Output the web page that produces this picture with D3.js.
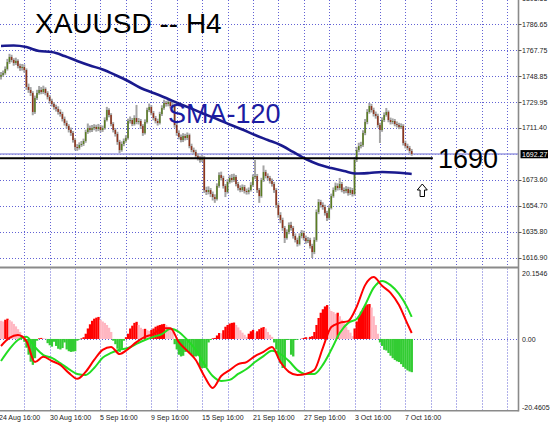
<!DOCTYPE html>
<html><head><meta charset="utf-8">
<script src="https://cdn.jsdelivr.net/npm/d3@7"></script>
<style>html,body{margin:0;padding:0;background:#fff;overflow:hidden}</style>
</head><body><svg id="c" width="554" height="422"></svg>
<script>
// ---------- DATA ----------
const firstOpen = 1748.5;
const closes = [1749.8,1751.2,1754.1,1759.2,1762.9,1760.7,1758.5,1760.0,1756.3,1754.9,1755.6,1753.4,1741.1,1738.9,1736.7,1722.9,1733.0,1736.7,1738.9,1737.4,1739.6,1736.7,1733.8,1730.9,1728.7,1726.5,1725.1,1722.9,1721.4,1717.8,1714.9,1712.7,1709.8,1707.6,1702.5,1697.4,1696.7,1698.9,1699.6,1701.8,1708.3,1711.2,1709.8,1711.2,1712.0,1710.5,1712.0,1709.8,1711.2,1717.0,1724.3,1720.7,1714.1,1709.8,1706.9,1701.1,1695.2,1699.6,1701.8,1704.0,1716.3,1717.0,1714.1,1718.5,1715.6,1716.3,1712.7,1707.6,1715.6,1724.3,1726.5,1722.1,1718.5,1716.3,1714.9,1721.4,1725.8,1729.4,1728.7,1730.1,1727.2,1727.9,1713.4,1707.6,1704.7,1702.5,1705.4,1704.0,1706.1,1698.1,1695.2,1693.8,1690.9,1689.4,1688.0,1689.4,1666.1,1664.7,1666.1,1663.2,1661.0,1659.6,1669.1,1677.0,1674.9,1669.1,1664.7,1672.0,1674.9,1673.4,1675.6,1670.5,1667.6,1666.1,1668.3,1665.4,1664.7,1666.1,1669.8,1675.6,1676.3,1666.1,1661.7,1673.4,1679.2,1676.3,1674.9,1672.7,1670.5,1666.1,1655.2,1648.0,1644.3,1638.5,1631.2,1635.6,1640.7,1638.5,1632.7,1629.8,1626.9,1632.7,1634.9,1631.2,1629.0,1629.8,1625.4,1621.0,1629.8,1650.1,1657.4,1655.2,1653.8,1649.4,1645.8,1653.0,1661.7,1666.1,1669.1,1667.6,1670.5,1666.1,1665.4,1666.9,1663.9,1666.1,1663.2,1688.0,1695.2,1698.1,1698.9,1707.6,1715.6,1722.9,1727.2,1724.3,1721.4,1720.0,1713.4,1709.8,1717.0,1720.7,1722.9,1717.0,1715.6,1716.3,1714.1,1713.4,1712.0,1712.7,1700.3,1698.1,1696.7,1694.5,1692.27];
const highs = [1752.0,1753.0,1756.0,1761.5,1765.2,1764.5,1762.0,1762.4,1761.2,1758.0,1757.8,1757.5,1754.6,1743.5,1741.0,1738.0,1734.8,1739.0,1741.8,1741.0,1742.0,1740.8,1738.0,1735.2,1732.5,1730.0,1728.2,1727.0,1724.8,1723.0,1719.5,1716.6,1714.0,1711.5,1709.0,1704.0,1699.5,1700.8,1701.8,1703.5,1710.0,1714.5,1713.0,1713.4,1714.0,1713.6,1714.2,1713.5,1713.0,1719.0,1726.6,1725.6,1722.0,1715.5,1711.2,1708.5,1702.6,1701.5,1703.6,1706.0,1718.0,1719.6,1718.5,1720.5,1728.0,1718.5,1717.8,1714.0,1717.5,1726.0,1729.0,1727.8,1723.6,1720.0,1718.0,1723.0,1727.8,1731.8,1731.0,1732.2,1731.6,1730.0,1729.0,1715.0,1709.5,1706.5,1707.5,1707.0,1708.0,1707.2,1699.8,1697.0,1695.4,1692.6,1691.0,1691.5,1690.8,1668.5,1668.8,1667.6,1665.0,1663.0,1671.0,1679.0,1679.5,1676.5,1670.5,1674.0,1677.0,1677.8,1678.0,1677.0,1672.0,1669.5,1670.2,1669.8,1667.2,1668.0,1671.8,1677.5,1688.0,1677.8,1667.6,1675.0,1684.0,1680.8,1678.2,1676.4,1674.5,1672.0,1667.5,1657.0,1650.0,1646.0,1640.0,1637.5,1642.6,1643.0,1640.0,1634.5,1631.5,1634.6,1637.0,1636.5,1633.0,1632.0,1631.4,1627.0,1631.8,1652.0,1659.5,1659.0,1657.2,1655.4,1651.0,1655.0,1663.5,1668.0,1671.5,1671.0,1674.9,1672.0,1668.0,1669.0,1668.5,1668.2,1667.6,1690.0,1697.5,1700.5,1701.2,1709.6,1717.8,1725.0,1729.4,1728.8,1726.0,1723.2,1721.6,1715.0,1719.0,1722.6,1725.8,1724.0,1718.8,1718.2,1717.8,1716.0,1715.0,1714.6,1714.0,1702.0,1699.8,1698.2,1696.0];
const lows = [1746.5,1748.6,1750.0,1753.0,1757.8,1759.0,1756.5,1757.0,1754.6,1752.8,1753.0,1751.5,1739.0,1736.8,1734.5,1720.5,1721.5,1731.6,1735.5,1735.8,1736.0,1735.0,1732.0,1729.0,1726.8,1724.6,1723.2,1721.0,1719.5,1716.0,1713.0,1710.8,1708.0,1705.5,1700.6,1695.0,1694.6,1695.5,1697.5,1698.2,1700.5,1707.0,1708.0,1708.3,1709.6,1708.6,1709.0,1708.0,1708.4,1710.0,1716.0,1719.0,1712.5,1708.0,1705.0,1699.0,1693.0,1694.0,1698.0,1700.5,1702.8,1714.5,1712.6,1713.0,1714.0,1713.8,1710.5,1705.5,1706.5,1714.5,1722.8,1720.5,1716.8,1714.6,1713.0,1713.8,1720.0,1724.5,1726.8,1727.0,1725.5,1725.8,1711.5,1705.6,1703.0,1700.8,1701.0,1702.2,1702.5,1696.5,1693.5,1692.0,1689.0,1687.6,1686.0,1686.5,1664.0,1662.5,1663.0,1661.0,1658.5,1656.8,1658.5,1667.8,1673.0,1667.2,1661.0,1663.5,1670.8,1671.6,1672.0,1668.8,1665.8,1664.5,1664.8,1663.6,1662.8,1663.0,1665.0,1668.5,1674.0,1664.0,1656.8,1660.5,1672.0,1674.6,1673.0,1670.8,1668.6,1664.0,1653.0,1646.0,1642.0,1636.5,1627.6,1630.0,1634.0,1636.6,1630.8,1628.0,1625.0,1625.8,1631.0,1629.5,1627.0,1627.5,1623.6,1616.7,1619.5,1628.5,1648.6,1653.4,1651.8,1647.5,1643.6,1644.5,1652.0,1660.5,1664.8,1665.8,1666.0,1664.5,1663.5,1663.8,1662.0,1662.5,1661.4,1662.0,1686.5,1693.6,1696.4,1697.5,1706.0,1714.0,1721.6,1722.5,1719.6,1718.0,1711.5,1700.3,1708.5,1715.6,1719.5,1715.4,1713.8,1714.0,1712.5,1711.6,1710.4,1710.5,1698.5,1696.4,1695.0,1692.8,1691.0];

const smaIdx  = [0,6,12,18,24,30,36,42,48,54,60,66,72,78,84,90,96,102,108,114,120,126,132,138,144,150,156,162,168,174,180,186,192,194];
const smaVals = [1770.9,1771.2,1770.1,1767.2,1766.5,1763.6,1760.0,1756.7,1753.8,1749.8,1745.4,1740.3,1736.7,1733.0,1729.0,1725.3,1721.4,1717.8,1713.8,1710.1,1706.1,1702.5,1698.9,1693.8,1688.7,1684.7,1682.1,1679.9,1678.1,1678.5,1679.2,1678.9,1678.1,1677.8];

const oscIdx = [0,4,8,12,16,20,24,28,32,36,40,44,48,52,56,60,64,68,72,76,80,84,88,92,96,100,104,108,112,116,120,124,128,132,136,140,144,148,152,156,160,164,168,172,176,180,184,188,192,194];
const macdVals = [-2.0,0.3,1.1,-0.6,-6.6,-5.1,-6.3,-7.4,-9.7,-11.4,-9.4,-6.0,-3.1,-2.3,-4.3,-2.9,-0.9,0.6,1.4,3.1,3.1,-0.9,-3.4,-6.0,-10.6,-14.0,-10.6,-8.9,-7.2,-6.6,-4.9,-3.7,-2.3,-6.6,-9.4,-10.3,-10.0,-8.9,-2.6,3.4,4.6,5.1,9.2,15.4,17.7,15.2,13.2,9.7,4.3,1.7];
const signalVals = [-6.3,-2.9,-0.3,0.6,-2.3,-4.6,-5.4,-6.9,-8.6,-10.0,-10.3,-8.3,-5.4,-4.0,-3.1,-2.6,-1.4,-0.3,0.6,1.4,2.9,2.0,-0.3,-3.1,-7.2,-10.6,-12.0,-11.7,-10.0,-8.6,-6.6,-4.9,-3.4,-4.3,-6.3,-8.9,-10.0,-10.0,-7.4,-3.1,1.7,4.6,5.7,9.7,14.6,16.6,15.4,12.9,8.9,6.3];
const histVals = [5.2,5.0,5.5,5.8,5.4,5.0,4.3,3.6,2.8,2.0,1.0,-0.8,-2.5,-4.5,-6.5,-7.4,-5.5,-0.5,0.2,0.3,0.2,0.1,-1.2,-1.8,-2.2,-0.8,-2.0,-2.8,-3.0,-2.6,-1.0,-3.0,-3.5,-3.7,-3.6,-3.5,-0.5,-0.2,0.2,0.5,1.5,3.0,4.2,5.2,5.8,6.1,6.3,5.5,5.0,4.6,4.0,3.2,2.0,-0.5,-1.5,-2.8,-3.7,-3.0,-0.5,0.5,1.5,3.0,3.8,4.6,4.9,4.0,3.2,2.8,2.9,2.5,2.3,2.6,3.0,3.5,3.8,4.0,4.2,4.3,4.0,3.5,3.0,2.0,-1.5,-3.0,-4.5,-5.0,-4.8,-3.7,-3.7,-4.0,-4.5,-5.0,-5.0,-4.8,-8.0,-8.3,-8.3,-8.0,-1.0,-0.3,0.2,0.3,1.0,1.7,1.6,2.5,3.5,4.0,4.4,4.6,4.7,4.0,3.3,2.5,1.8,1.2,0.6,1.5,2.2,2.6,1.8,2.2,2.8,3.2,3.4,3.0,2.0,1.2,0.6,-1.0,-3.0,-5.5,-7.0,-8.3,-8.0,-0.3,-0.2,-4.5,-5.0,-0.3,-0.2,0.0,0.1,0.3,0.5,0.4,0.6,0.8,2.0,4.0,6.0,7.5,8.5,9.3,9.7,8.5,8.0,7.7,7.2,7.5,6.5,5.5,4.5,3.5,2.6,1.8,0.8,3.0,5.0,6.5,7.8,8.8,9.5,9.9,10.0,9.0,6.5,4.0,1.5,-1.0,-2.0,-3.1,-3.3,-4.0,-4.8,-5.5,-6.0,-6.4,-6.6,-7.2,-8.0,-8.5,-9.0,-9.3,-9.5];

const priceTicks = [1805.55,1786.65,1767.75,1748.85,1729.95,1711.40,1692.50,1673.60,1654.70,1635.80,1616.90];
const oscTicks = [20.1546, 0, -20.4605];
const oscTickText = ["20.1546","0.00","-20.4605"];
const timeLabels = ["24 Aug 16:00","30 Aug 16:00","5 Sep 16:00","9 Sep 16:00","15 Sep 16:00","21 Sep 16:00","27 Sep 16:00","3 Oct 16:00","7 Oct 16:00"];
const timeLabelIdx = [-1,23,47,71,95,119,143,167,191];
const gridIdx = d3.range(-1, 240, 12);
const lastPrice = 1692.27;
const levelPrice = 1689.2, levelText = "1690", levelEndIdx = 204;
const arrowAt = {idx: 199, price: 1670.5};
const titleText = "XAUUSD -- H4", smaText = "SMA-120";

// ---------- SCALES ----------
const svg = d3.select("#c");
const plotR = 518.5;
const x = d3.scaleLinear().domain([0, 194]).range([1, 411.7]);
const yP = d3.scaleLinear().domain([1616.90, 1786.65]).range([257.7, 24.3]);
const yO = d3.scaleLinear().domain([-20.4605, 20.1546]).range([410.5, 268.5]);

const defs = svg.append("defs");
defs.append("clipPath").attr("id","cm").append("rect").attr("x",0).attr("y",0).attr("width",plotR).attr("height",266.5);
defs.append("clipPath").attr("id","co").append("rect").attr("x",0).attr("y",268.5).attr("width",plotR).attr("height",142);

const gridColor = "#6262d4";
const main = svg.append("g").attr("clip-path","url(#cm)");
const osc = svg.append("g").attr("clip-path","url(#co)");

// grids
main.selectAll("line.vg").data(gridIdx).join("line").attr("class","vg")
  .attr("x1", d=>Math.round(x(d))+0.5).attr("x2", d=>Math.round(x(d))+0.5).attr("y1",0).attr("y2",266.5)
  .attr("stroke",gridColor).attr("stroke-dasharray","1,2");
main.selectAll("line.hg").data(priceTicks).join("line").attr("class","hg")
  .attr("x1",0).attr("x2",plotR).attr("y1",d=>Math.round(yP(d))+0.5).attr("y2",d=>Math.round(yP(d))+0.5)
  .attr("stroke",gridColor).attr("stroke-dasharray","1,2");
osc.selectAll("line.vg").data(gridIdx).join("line").attr("class","vg")
  .attr("x1", d=>Math.round(x(d))+0.5).attr("x2", d=>Math.round(x(d))+0.5).attr("y1",268.5).attr("y2",410.5)
  .attr("stroke",gridColor).attr("stroke-dasharray","1,2");
osc.append("line").attr("x1",0).attr("x2",plotR).attr("y1",Math.round(yO(0))+0.5).attr("y2",Math.round(yO(0))+0.5)
  .attr("stroke",gridColor).attr("stroke-dasharray","1,2");

// bid line
main.append("line").attr("x1",0).attr("x2",plotR).attr("y1",yP(lastPrice)).attr("y2",yP(lastPrice))
  .attr("stroke","#9a9ae2").attr("stroke-width",1.6);

// candles
const candles = closes.map((c,i)=>({i, o: i===0?firstOpen:closes[i-1], c, h: highs[i], l: lows[i]}));
main.selectAll("line.wick").data(candles).join("line").attr("class","wick")
  .attr("x1",d=>x(d.i)).attr("x2",d=>x(d.i)).attr("y1",d=>yP(d.h)).attr("y2",d=>yP(d.l))
  .attr("stroke","#a4a4a4").attr("stroke-width",2);
main.selectAll("rect.body").data(candles).join("rect").attr("class","body")
  .attr("x",d=>x(d.i)-0.75).attr("width",1.5)
  .attr("y",d=>yP(Math.max(d.o,d.c)))
  .attr("height",d=>Math.max(1, Math.abs(yP(d.o)-yP(d.c))))
  .attr("fill",d=>d.c>=d.o?"#5a7d22":"#8e341c");

// SMA
const smaLine = d3.line().x(d=>x(d[0])).y(d=>yP(d[1])).curve(d3.curveMonotoneX);
main.append("path").attr("d", smaLine(smaIdx.map((k,j)=>[k, smaVals[j]])))
  .attr("fill","none").attr("stroke","#1a1a8e").attr("stroke-width",2.6);

// level line
main.append("line").attr("x1",0).attr("x2",x(levelEndIdx)).attr("y1",yP(levelPrice)).attr("y2",yP(levelPrice))
  .attr("stroke","#000").attr("stroke-width",2);

// arrow
const ax = x(arrowAt.idx), ay = yP(arrowAt.price);
main.append("path")
  .attr("d", `M${ax},${ay} L${ax+5},${ay+6} L${ax+2.2},${ay+6} L${ax+2.2},${ay+12.5} L${ax-2.2},${ay+12.5} L${ax-2.2},${ay+6} L${ax-5},${ay+6} Z`)
  .attr("fill","#fff").attr("stroke","#000").attr("stroke-width",1);

// texts
svg.append("text").attr("x",35).attr("y",33).text(titleText)
  .attr("font-family","Liberation Sans, Arial, sans-serif").attr("font-size",28).attr("fill","#000");
svg.append("text").attr("x",168).attr("y",123).text(smaText)
  .attr("font-family","Liberation Sans, Arial, sans-serif").attr("font-size",27).attr("fill","#1c1ca2");
svg.append("text").attr("x",438).attr("y",168).text(levelText)
  .attr("font-family","Liberation Sans, Arial, sans-serif").attr("font-size",27).attr("fill","#000");

// oscillator histogram
const hw = x(1)-x(0);
const hist = histVals.map((v,i)=>({i,v,prev: i===0? v+0.2 : histVals[i-1]}));
osc.selectAll("rect.h").data(hist).join("rect").attr("class","h")
  .attr("x",d=>x(d.i)-hw/2).attr("width",hw+0.2)
  .attr("y",d=>Math.min(yO(0),yO(d.v))).attr("height",d=>Math.abs(yO(d.v)-yO(0)))
  .attr("fill",d=> d.v<0 ? "#33cc33" : (d.v>=d.prev ? "#ff0000" : "#ffb6c1"));

const oLine = d3.line().x(d=>x(d[0])).y(d=>yO(d[1])).curve(d3.curveMonotoneX);
osc.append("path").attr("d", oLine(oscIdx.map((k,j)=>[k, signalVals[j]])))
  .attr("fill","none").attr("stroke","#22dd22").attr("stroke-width",2);
osc.append("path").attr("d", oLine(oscIdx.map((k,j)=>[k, macdVals[j]])))
  .attr("fill","none").attr("stroke","#ff0000").attr("stroke-width",2);

// frame
svg.append("rect").attr("x",0).attr("y",266.5).attr("width",plotR).attr("height",2).attr("fill","#8a8a8a");
svg.append("line").attr("x1",0).attr("x2",plotR).attr("y1",410.8).attr("y2",410.8).attr("stroke","#8a8a8a").attr("stroke-width",1.4);
svg.append("line").attr("x1",plotR).attr("x2",plotR).attr("y1",0).attr("y2",411.5).attr("stroke","#8a8a8a").attr("stroke-width",1.6);

// right axis labels
const small = "Liberation Sans, Arial, sans-serif";
const pt = priceTicks.filter(d=>d!==1692.50);
svg.selectAll("line.pt").data(pt).join("line").attr("class","pt")
  .attr("x1",plotR).attr("x2",plotR+3).attr("y1",d=>Math.round(yP(d))+0.5).attr("y2",d=>Math.round(yP(d))+0.5).attr("stroke","#555");
svg.selectAll("text.pt").data(pt).join("text").attr("class","pt")
  .attr("x",522).attr("y",d=>yP(d)+2.6).text(d=>d.toFixed(2))
  .attr("font-family",small).attr("font-size",7).attr("fill","#222");
svg.append("rect").attr("x",520.5).attr("y",yP(lastPrice)-4).attr("width",27.5).attr("height",8.2).attr("fill","#000");
svg.append("text").attr("x",522).attr("y",yP(lastPrice)+2.6).text(lastPrice.toFixed(2))
  .attr("font-family",small).attr("font-size",7).attr("fill","#fff");

const oscLabelY = [yO(oscTicks[0])+7.5, yO(0)+2.6, yO(oscTicks[2])-0.5];
svg.selectAll("text.ot").data(oscTicks).join("text").attr("class","ot")
  .attr("x",522).attr("y",(d,j)=>oscLabelY[j]).text((d,j)=>oscTickText[j])
  .attr("font-family",small).attr("font-size",7).attr("fill","#222");

// time labels
svg.selectAll("text.tl").data(timeLabelIdx).join("text").attr("class","tl")
  .attr("x",d=>Math.round(x(d))).attr("y",420).text((d,j)=>timeLabels[j])
  .attr("font-family",small).attr("font-size",7).attr("fill","#222");
</script></body></html>
